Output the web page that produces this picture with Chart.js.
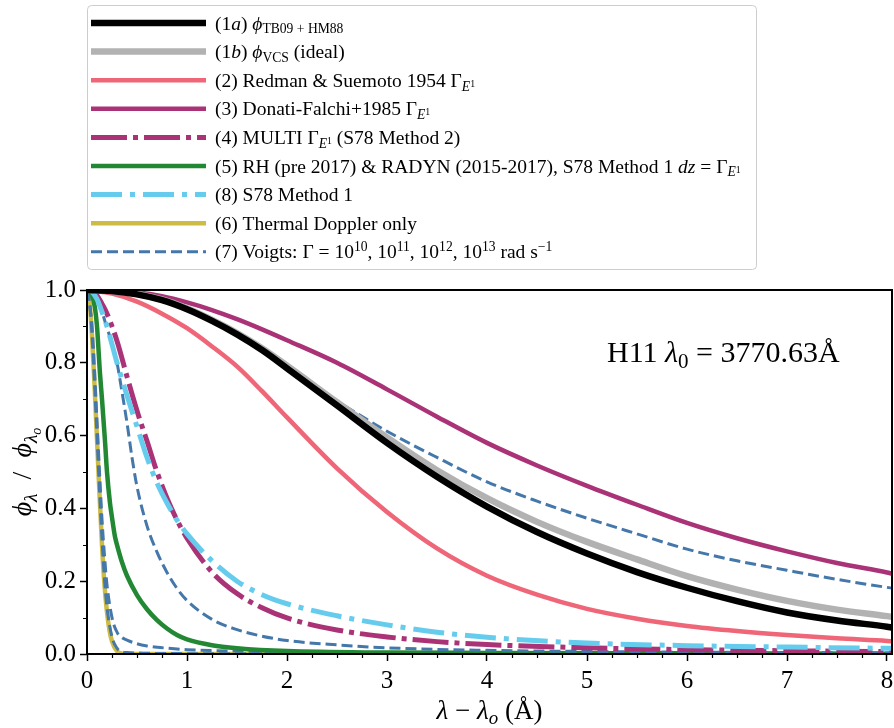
<!DOCTYPE html>
<html>
<head>
<meta charset="utf-8">
<script src="https://cdn.jsdelivr.net/npm/chart.js@4.4.1/dist/chart.umd.min.js"></script>
<style>
  html, body { margin: 0; padding: 0; background: #fff; }
</style>
</head>
<body>
<canvas id="profiles" width="894" height="728"></canvas>
<script>
// shared x grid for the broad profiles
var xWide = [0, 0.25, 0.5, 0.75, 1, 1.25, 1.5, 1.75, 2, 2.5, 3, 3.5, 4, 4.5, 5, 5.5, 6, 6.5, 7, 7.5, 8, 8.05];
var yTB09 = [1.0, 0.997, 0.988, 0.972, 0.947, 0.915, 0.878, 0.835, 0.785, 0.683, 0.58, 0.487, 0.405, 0.335, 0.276, 0.225, 0.182, 0.145, 0.114, 0.092, 0.075, 0.073];
var yVCS = [1.0, 0.997, 0.989, 0.974, 0.95, 0.918, 0.882, 0.84, 0.792, 0.692, 0.595, 0.505, 0.428, 0.363, 0.308, 0.26, 0.214, 0.177, 0.146, 0.122, 0.104, 0.102];
var yRedman = [1.0, 0.99, 0.968, 0.935, 0.895, 0.845, 0.79, 0.722, 0.65, 0.51, 0.39, 0.29, 0.215, 0.163, 0.124, 0.097, 0.077, 0.063, 0.052, 0.043, 0.036, 0.035];
var yDonati = [1.0, 0.999, 0.994, 0.983, 0.966, 0.945, 0.92, 0.892, 0.862, 0.8, 0.727, 0.652, 0.58, 0.518, 0.462, 0.41, 0.36, 0.318, 0.282, 0.25, 0.224, 0.221];
var yVoigt13 = [1.0, 0.997, 0.988, 0.972, 0.947, 0.915, 0.878, 0.835, 0.785, 0.695, 0.612, 0.54, 0.473, 0.42, 0.373, 0.33, 0.288, 0.256, 0.23, 0.205, 0.183, 0.181];

// S78 methods
var xS78 = [0, 0.05, 0.1, 0.15, 0.2, 0.3, 0.4, 0.5, 0.6, 0.7, 0.8, 0.9, 1, 1.25, 1.5, 1.75, 2, 2.5, 3, 3.5, 4, 5, 6, 7, 8, 8.05];
var yMulti = [1.0, 0.996, 0.985, 0.962, 0.935, 0.86, 0.762, 0.668, 0.585, 0.5, 0.428, 0.368, 0.318, 0.225, 0.166, 0.127, 0.099, 0.066, 0.047, 0.034, 0.026, 0.017, 0.012, 0.009, 0.007, 0.007];
var yMethod1 = [1.0, 0.995, 0.975, 0.94, 0.9, 0.8, 0.71, 0.625, 0.54, 0.47, 0.415, 0.368, 0.33, 0.256, 0.2, 0.163, 0.138, 0.105, 0.08, 0.06, 0.046, 0.03, 0.023, 0.019, 0.016, 0.016];

// narrow profiles
var xRH = [0, 0.05, 0.08, 0.1, 0.13, 0.15, 0.18, 0.2, 0.23, 0.25, 0.28, 0.3, 0.35, 0.4, 0.5, 0.6, 0.7, 0.8, 0.9, 1, 1.25, 1.5, 2, 3, 4, 6, 8.05];
var yRH = [1.0, 0.985, 0.95, 0.9, 0.77, 0.7, 0.585, 0.5, 0.414, 0.375, 0.322, 0.3, 0.252, 0.215, 0.162, 0.123, 0.093, 0.07, 0.052, 0.04, 0.024, 0.016, 0.008, 0.004, 0.003, 0.002, 0.001];
var xDoppler = [0, 0.025, 0.05, 0.075, 0.1, 0.125, 0.15, 0.175, 0.2, 0.225, 0.25, 0.3, 0.35, 0.4, 8.05];
var yDoppler = [1.0, 0.97, 0.875, 0.74, 0.59, 0.44, 0.3, 0.19, 0.115, 0.065, 0.035, 0.008, 0.001, 0, 0];

// Voigt profiles, Gamma = 1e10, 1e11, 1e12 (1e13 is on xWide)
var xVoigt10 = [0, 0.025, 0.05, 0.075, 0.1, 0.125, 0.15, 0.175, 0.2, 0.25, 0.3, 0.35, 0.4, 0.6, 1, 2, 4, 8.05];
var yVoigt10 = [1.0, 0.97, 0.877, 0.745, 0.597, 0.45, 0.315, 0.205, 0.128, 0.047, 0.016, 0.006, 0.004, 0.002, 0.001, 0.0005, 0.0002, 0.0001];
var xVoigt11 = [0, 0.05, 0.1, 0.125, 0.15, 0.175, 0.2, 0.25, 0.3, 0.35, 0.4, 0.5, 0.6, 0.8, 1, 1.5, 2, 3, 4, 6, 8.05];
var yVoigt11 = [1.0, 0.9, 0.64, 0.5, 0.37, 0.27, 0.19, 0.1, 0.06, 0.045, 0.038, 0.028, 0.022, 0.016, 0.012, 0.008, 0.006, 0.003, 0.002, 0.001, 0.001];
var xVoigt12 = [0, 0.05, 0.1, 0.15, 0.2, 0.25, 0.3, 0.35, 0.4, 0.45, 0.5, 0.6, 0.7, 0.8, 0.9, 1, 1.25, 1.5, 1.75, 2, 2.5, 3, 4, 5, 6, 8.05];
var yVoigt12 = [1.0, 0.99, 0.972, 0.94, 0.895, 0.855, 0.8, 0.72, 0.635, 0.54, 0.46, 0.352, 0.28, 0.224, 0.18, 0.147, 0.095, 0.067, 0.049, 0.037, 0.025, 0.017, 0.01, 0.007, 0.005, 0.003];

var xTicks = [0, 1, 2, 3, 4, 5, 6, 7, 8];
var yTicks = [0, 0.2, 0.4, 0.6, 0.8, 1.0];

var FONT = '"Liberation Serif", "DejaVu Serif", serif';

function pts(xs, ys) {
  return xs.map(function(x, i) { return {x: x, y: ys[i]}; });
}

function line(data, color, width, dash, order) {
  return {
    data: data,
    borderColor: color,
    borderWidth: width,
    borderDash: dash || [],
    borderCapStyle: 'butt',
    pointRadius: 0,
    fill: false,
    cubicInterpolationMode: 'monotone',
    clip: 0,
    order: order
  };
}

var blue = '#4477aa';
var voigtDash = [11, 5];
var datasets = [
  line(pts(xWide, yTB09), '#000000', 6.5, null, 1),            // 0
  line(pts(xWide, yVCS), '#b2b2b2', 6.5, null, 2),             // 1
  line(pts(xWide, yRedman), '#ee6677', 4.5, null, 5),          // 2
  line(pts(xWide, yDonati), '#aa3377', 4.5, null, 4),          // 3
  line(pts(xS78, yMulti), '#aa3377', 5, [36, 6, 5, 6], 7),     // 4
  line(pts(xRH, yRH), '#228833', 4.5, null, 9),                // 5
  line(pts(xS78, yMethod1), '#66ccee', 5, [31, 8, 5, 8], 6),   // 6
  line(pts(xDoppler, yDoppler), '#ccbb44', 4.5, null, 12),     // 7
  line(pts(xWide, yVoigt13), blue, 3, voigtDash, 3),           // 8
  line(pts(xVoigt12, yVoigt12), blue, 3, voigtDash, 8),
  line(pts(xVoigt11, yVoigt11), blue, 3, voigtDash, 10),
  line(pts(xVoigt10, yVoigt10), blue, 3, voigtDash, 11)
];

// rich text helpers (sub/superscripts)
function N(t) { return {t: t, k: 1, dy: 0, it: false}; }
function I(t) { return {t: t, k: 1, dy: 0, it: true}; }
function Sb(t, it) { return {t: t, k: 0.7, dy: 0.2, it: !!it}; }
function Sp(t) { return {t: t, k: 0.7, dy: -0.38, it: false}; }
function SbSp(t) { return {t: t, k: 0.5, dy: 0.0, it: false}; }
function SbSb(t, it) { return {t: t, k: 0.5, dy: 0.36, it: !!it}; }

function fontFor(s, size) {
  return (s.it ? 'italic ' : '') + (size * s.k).toFixed(1) + 'px ' + FONT;
}
function richWidth(ctx, segs, size) {
  var w = 0;
  segs.forEach(function(s) { ctx.font = fontFor(s, size); w += ctx.measureText(s.t).width; });
  return w;
}
function richText(ctx, segs, x, y, size, align) {
  var cx = align === 'center' ? x - richWidth(ctx, segs, size) / 2 : x;
  ctx.textBaseline = 'alphabetic';
  ctx.textAlign = 'left';
  segs.forEach(function(s) {
    ctx.font = fontFor(s, size);
    ctx.fillText(s.t, cx, y + s.dy * size);
    cx += ctx.measureText(s.t).width;
  });
}

var legendItems = [
  {ds: 0, text: [N('(1'), I('a'), N(') '), I('ϕ'), Sb('TB09 + HM88')]},
  {ds: 1, text: [N('(1'), I('b'), N(') '), I('ϕ'), Sb('VCS'), N(' (ideal)')]},
  {ds: 2, text: [N('(2) Redman & Suemoto 1954 Γ'), Sb('E', true), SbSp('1')]},
  {ds: 3, text: [N('(3) Donati-Falchi+1985 Γ'), Sb('E', true), SbSp('1')]},
  {ds: 4, text: [N('(4) MULTI Γ'), Sb('E', true), SbSp('1'), N(' (S78 Method 2)')]},
  {ds: 5, text: [N('(5) RH (pre 2017) & RADYN (2015-2017), S78 Method 1 '), I('dz'), N(' = Γ'), Sb('E', true), SbSp('1')]},
  {ds: 6, text: [N('(8) S78 Method 1')]},
  {ds: 7, text: [N('(6) Thermal Doppler only')]},
  {ds: 8, text: [N('(7) Voigts: Γ = 10'), Sp('10'), N(', 10'), Sp('11'), N(', 10'), Sp('12'), N(', 10'), Sp('13'), N(' rad s'), Sp('−1')]}
];

function roundRect(ctx, x, y, w, h, r) {
  ctx.beginPath();
  ctx.moveTo(x + r, y);
  ctx.lineTo(x + w - r, y);
  ctx.arcTo(x + w, y, x + w, y + r, r);
  ctx.lineTo(x + w, y + h - r);
  ctx.arcTo(x + w, y + h, x + w - r, y + h, r);
  ctx.lineTo(x + r, y + h);
  ctx.arcTo(x, y + h, x, y + h - r, r);
  ctx.lineTo(x, y + r);
  ctx.arcTo(x, y, x + r, y, r);
  ctx.closePath();
}

var extras = {
  id: 'extras',
  afterDraw: function(chart) {
    var ctx = chart.ctx;
    var a = chart.chartArea;
    var xs = chart.scales.x, ys = chart.scales.y;
    ctx.save();

    // frame
    ctx.strokeStyle = '#000';
    ctx.lineWidth = 2;
    ctx.strokeRect(a.left, a.top, a.right - a.left, a.bottom - a.top);

    // minor ticks
    ctx.lineWidth = 1.2;
    ctx.beginPath();
    for (var v = 0.25; v < 8.05; v += 0.25) {
      if (Math.abs(v - Math.round(v)) < 1e-6) continue;
      var px = Math.round(xs.getPixelForValue(v)) + 0.5;
      ctx.moveTo(px, a.bottom);
      ctx.lineTo(px, a.bottom + 4);
    }
    for (var k = 1; k < 10; k += 2) {
      var py = Math.round(ys.getPixelForValue(k / 10)) + 0.5;
      ctx.moveTo(a.left, py);
      ctx.lineTo(a.left - 4, py);
    }
    ctx.stroke();

    // axis titles
    ctx.fillStyle = '#000';
    richText(ctx, [I('λ'), N(' − '), I('λ'), Sb('o', true), N(' (Å)')], (a.left + a.right) / 2, 719, 27, 'center');
    ctx.save();
    ctx.translate(31, (a.top + a.bottom) / 2);
    ctx.rotate(-Math.PI / 2);
    richText(ctx, [I('ϕ'), Sb('λ', true), N('  /  '), I('ϕ'), Sb('λ', true), SbSb('o', true)], 0, 0, 28, 'center');
    ctx.restore();

    // annotation
    richText(ctx, [N('H11 '), I('λ'), Sb('0'), N(' = 3770.63Å')], 607, 362, 30, 'left');

    // legend
    var lx = 87.5, ly = 5.5, lw = 669, lh = 264;
    roundRect(ctx, lx, ly, lw, lh, 4);
    ctx.fillStyle = 'rgba(255,255,255,0.8)';
    ctx.fill();
    ctx.strokeStyle = '#cccccc';
    ctx.lineWidth = 1;
    ctx.stroke();

    legendItems.forEach(function(item, i) {
      var ds = chart.data.datasets[item.ds];
      var cy = 23 + i * 28.6;
      ctx.beginPath();
      ctx.strokeStyle = ds.borderColor;
      ctx.lineWidth = ds.borderWidth;
      ctx.lineCap = 'butt';
      ctx.setLineDash(ds.borderDash || []);
      ctx.moveTo(91, cy);
      ctx.lineTo(206, cy);
      ctx.stroke();
      ctx.setLineDash([]);
      ctx.fillStyle = '#000';
      richText(ctx, item.text, 215, cy + 6.5, 19.5, 'left');
    });

    ctx.restore();
  }
};

function noPad(s) {
  s.paddingLeft = 0; s.paddingRight = 0; s.paddingTop = 0; s.paddingBottom = 0;
}

new Chart(document.getElementById('profiles'), {
  type: 'line',
  data: { datasets: datasets },
  options: {
    responsive: false,
    animation: false,
    events: [],
    layout: { padding: { top: 290, right: 2, left: 0, bottom: 0 } },
    plugins: { legend: { display: false }, tooltip: { enabled: false } },
    scales: {
      x: {
        type: 'linear',
        min: 0,
        max: 8.05,
        afterFit: function(s) { s.height = 74; noPad(s); },
        afterBuildTicks: function(s) { s.ticks = xTicks.map(function(v) { return {value: v}; }); },
        grid: { drawOnChartArea: false, drawTicks: true, tickLength: 7, tickWidth: 1.5, tickColor: '#000' },
        border: { display: false },
        ticks: {
          color: '#000',
          padding: 5,
          maxRotation: 0,
          font: { family: FONT, size: 25 },
          callback: function(v) { return String(v); }
        }
      },
      y: {
        type: 'linear',
        min: 0,
        max: 1,
        afterFit: function(s) { s.width = 87; noPad(s); },
        afterBuildTicks: function(s) { s.ticks = yTicks.map(function(v) { return {value: v}; }); },
        grid: { drawOnChartArea: false, drawTicks: true, tickLength: 7, tickWidth: 1.5, tickColor: '#000' },
        border: { display: false },
        ticks: {
          color: '#000',
          padding: 4,
          font: { family: FONT, size: 25 },
          callback: function(v) { return Number(v).toFixed(1); }
        }
      }
    }
  },
  plugins: [extras]
});
</script>
</body>
</html>
